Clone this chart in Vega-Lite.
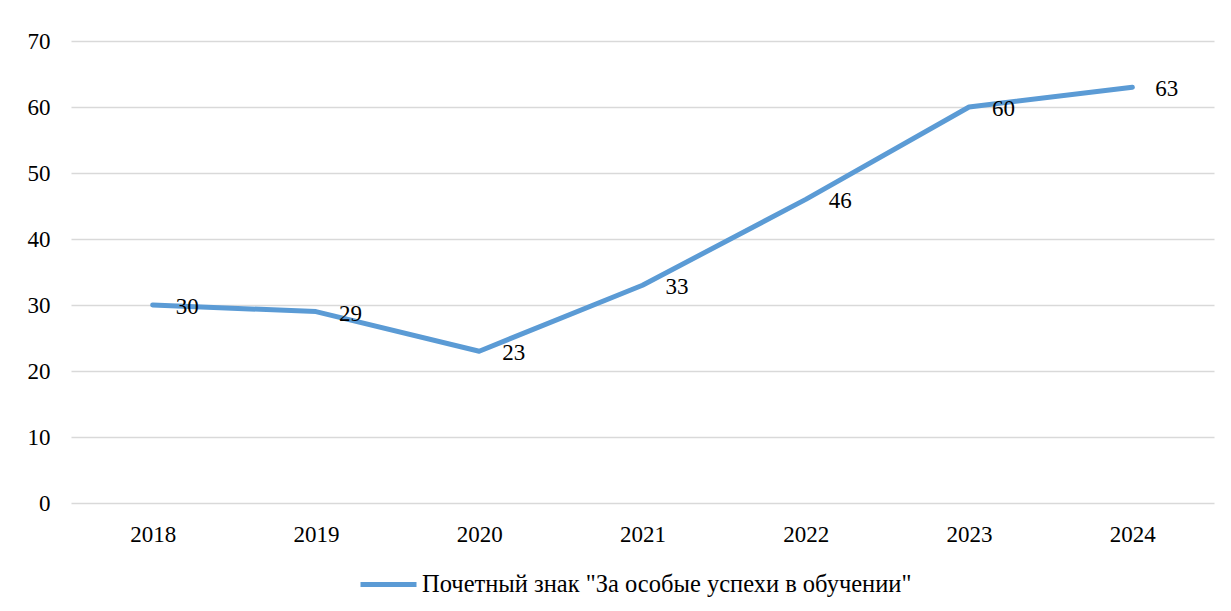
{
  "$schema": "https://vega.github.io/schema/vega-lite/v6.json",
  "width": 1143,
  "height": 462,
  "autosize": {"type": "none"},
  "padding": {"left": 71, "top": 41, "right": 17, "bottom": 108},
  "background": "white",
  "config": {
    "view": {"stroke": null},
    "font": "Liberation Serif",
    "axis": {"labelFont": "Liberation Serif", "labelFontSize": 23, "labelColor": "#000000"},
    "legend": {"labelFont": "Liberation Serif"},
    "text": {"font": "Liberation Serif"}
  },
  "data": {
    "values": [
      {"year": "2018", "value": 30, "series": "Почетный знак \"За особые успехи в обучении\""},
      {"year": "2019", "value": 29, "series": "Почетный знак \"За особые успехи в обучении\""},
      {"year": "2020", "value": 23, "series": "Почетный знак \"За особые успехи в обучении\""},
      {"year": "2021", "value": 33, "series": "Почетный знак \"За особые успехи в обучении\""},
      {"year": "2022", "value": 46, "series": "Почетный знак \"За особые успехи в обучении\""},
      {"year": "2023", "value": 60, "series": "Почетный знак \"За особые успехи в обучении\""},
      {"year": "2024", "value": 63, "series": "Почетный знак \"За особые успехи в обучении\""}
    ]
  },
  "encoding": {
    "x": {
      "field": "year", "type": "ordinal",
      "scale": {"type": "point", "padding": 0.5},
      "axis": {"title": null, "labelAngle": 0, "ticks": false, "domain": false, "grid": false, "labelPadding": 20}
    },
    "y": {
      "field": "value", "type": "quantitative",
      "scale": {"domain": [0, 70], "nice": false, "zero": true},
      "axis": {"title": null, "values": [0, 10, 20, 30, 40, 50, 60, 70], "ticks": false, "domain": false, "grid": true, "gridColor": "#D9D9D9", "gridWidth": 1.5, "labelPadding": 21}
    }
  },
  "layer": [
    {
      "mark": {"type": "line", "strokeWidth": 5, "strokeCap": "round", "strokeJoin": "round"},
      "encoding": {
        "color": {
          "field": "series", "type": "nominal",
          "scale": {"range": ["#5B9BD5"]},
          "legend": {
            "title": null, "orient": "none", "legendX": 287, "legendY": 513,
            "symbolType": "stroke", "symbolSize": 3136, "symbolStrokeWidth": 5,
            "labelFont": "Liberation Serif", "labelFontSize": 24.5, "labelColor": "#000000",
            "labelOffset": 3, "padding": 0, "labelLimit": 900
          }
        }
      }
    },
    {
      "mark": {"type": "text", "align": "left", "baseline": "middle", "dx": 23, "dy": 2, "fontSize": 23, "font": "Liberation Serif", "color": "#000000"},
      "encoding": {"text": {"field": "value", "type": "quantitative"}}
    }
  ]
}
